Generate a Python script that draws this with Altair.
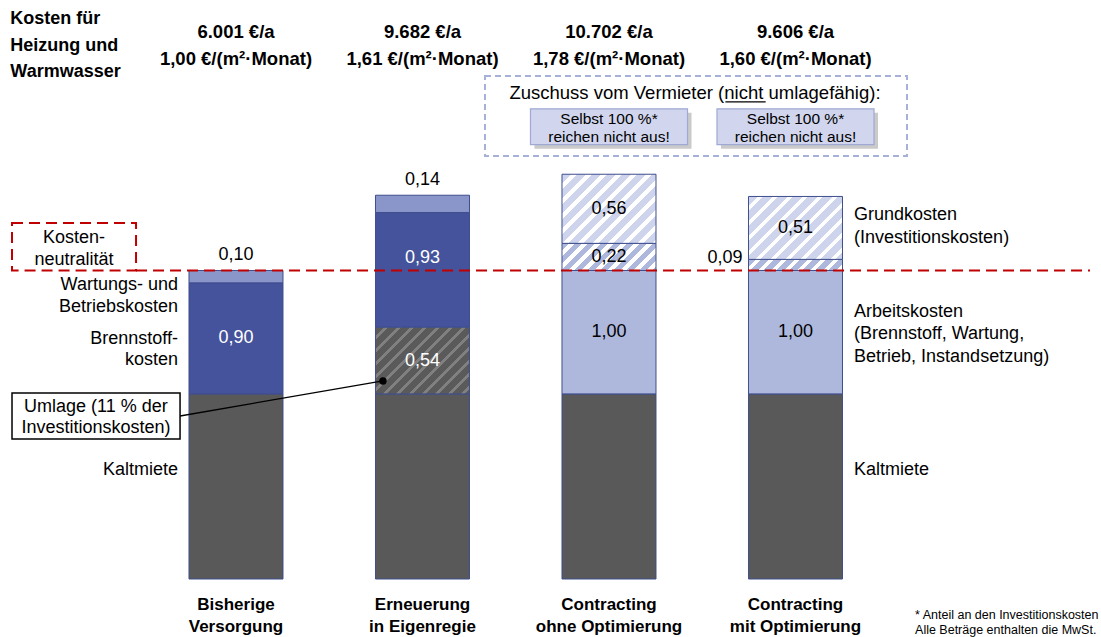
import altair as alt
import numpy as np
import pandas as pd

# ---------------- data ----------------
categories = [["Bisherige", "Versorgung"], ["Erneuerung", "in Eigenregie"],
              ["Contracting", "ohne Optimierung"], ["Contracting", "mit Optimierung"]]
cost_per_year = [6001, 9682, 10702, 9606]          # €/a
cost_per_m2 = [1.00, 1.61, 1.78, 1.60]             # €/(m²·Monat)
kaltmiete = [1.50, 1.50, 1.50, 1.50]               # unlabelled base block
seg_bar = [1, 1, 2, 2, 2, 3, 3, 3, 4, 4, 4]
seg_component = ["Brennstoff", "Wartung",
                 "Umlage", "Brennstoff", "Wartung",
                 "Arbeit", "GrundTeil", "Grund",
                 "Arbeit", "GrundTeil", "Grund"]
seg_value = [0.90, 0.10, 0.54, 0.93, 0.14, 1.00, 0.22, 0.56, 1.00, 0.09, 0.51]
neutral_level = 2.50                               # Kostenneutralität

title_lines = ["Kosten für", "Heizung und", "Warmwasser"]
left_labels = ["Wartungs- und", "Betriebskosten", "Brennstoff-", "kosten", "Kaltmiete"]
right_labels = ["Grundkosten", "(Investitionskosten)", "Arbeitskosten",
                "(Brennstoff, Wartung,", "Betrieb, Instandsetzung)", "Kaltmiete"]
umlage_lines = ["Umlage (11 % der", "Investitionskosten)"]
neutral_lines = ["Kosten-", "neutralität"]
zuschuss_text = "Zuschuss vom Vermieter (nicht umlagefähig):"
box_lines = ["Selbst 100 %*", "reichen nicht aus!"]
footnote_lines = ["* Anteil an den Investitionskosten", "Alle Beträge enthalten die MwSt."]

# ---------------- layout / style ----------------
W_PX, H_PX = 1101, 637
XMIN, XMAX = -0.2654, 5.6381
YMIN, YMAX = -0.470, 4.692
KX = W_PX / (XMAX - XMIN)
KY = H_PX / (YMAX - YMIN)
HALF = 0.252
FONT = "Liberation Sans"
EDGE = "#3F4E8E"
RED = "#C00000"
xs = alt.Scale(domain=[XMIN, XMAX], nice=False, zero=False)
ys = alt.Scale(domain=[YMIN, YMAX], nice=False, zero=False)

solid_colors = {"Kaltmiete": "#595959", "Brennstoff": "#44539B",
                "Wartung": "#8A96CA", "Arbeit": "#AEB8DD"}
hatch_styles = {"Umlage": ("#5A5A5A", "#808080", 13.0, 0.35),
                "GrundTeil": ("#AEB8DD", "#FFFFFF", 13.0, 0.45),
                "Grund": ("#CDD4EC", "#FFFFFF", 15.0, 0.35)}


def fmt(v):
    return f"{v:.2f}".replace(".", ",")


def X(f="x"):
    return alt.X(f"{f}:Q", scale=xs, axis=None)


def Y(f="y"):
    return alt.Y(f"{f}:Q", scale=ys, axis=None)


# ---------------- stacked segments ----------------
rows = []
tops = {}
for i, km in enumerate(kaltmiete, start=1):
    rows.append(dict(bar=i, comp="Kaltmiete", lo=0.0, hi=km, val=km))
    tops[i] = km
for b, c, v in zip(seg_bar, seg_component, seg_value):
    lo = tops[b]
    rows.append(dict(bar=b, comp=c, lo=lo, hi=lo + v, val=v))
    tops[b] = lo + v
rects = pd.DataFrame(rows)
rects["x"] = rects["bar"] - HALF
rects["x2"] = rects["bar"] + HALF
rects["mid"] = (rects["lo"] + rects["hi"]) / 2

layers = []

solid = rects[rects["comp"].isin(list(solid_colors))]
layers.append(
    alt.Chart(solid).mark_rect(stroke=EDGE, strokeWidth=1).encode(
        x=X("x"), x2=alt.X2("x2:Q"), y=Y("lo"), y2=alt.Y2("hi:Q"),
        fill=alt.Fill("comp:N", legend=None,
                      scale=alt.Scale(domain=list(solid_colors),
                                      range=list(solid_colors.values())))
    )
)


def hatch_gradient(w, h, bg, fg, period, frac):
    r = h / w
    total = w + h
    stops = []
    k = 0
    while k * period < total:
        a = k * period / total
        m = min((k * period + (1 - frac) * period) / total, 1.0)
        e = min((k + 1) * period / total, 1.0)
        stops += [{"offset": a, "color": bg}, {"offset": m, "color": bg}]
        if m < 1.0:
            stops += [{"offset": m, "color": fg}, {"offset": e, "color": fg}]
        k += 1
    return {"gradient": "linear", "x1": 0, "y1": 0,
            "x2": (1 + r) / (1 + r * r), "y2": r * (1 + r) / (1 + r * r),
            "stops": stops}


hatched = rects[rects["comp"].isin(list(hatch_styles))]
for _, row in hatched.iterrows():
    bg, fg, per, frac = hatch_styles[row["comp"]]
    w = 2 * HALF * KX
    h = row["val"] * KY
    grad = hatch_gradient(w, h, bg, fg, per, frac)
    layers.append(
        alt.Chart(pd.DataFrame([row])).mark_rect(fill=grad, stroke=EDGE, strokeWidth=1).encode(
            x=X("x"), x2=alt.X2("x2:Q"), y=Y("lo"), y2=alt.Y2("hi:Q"))
    )

# ---------------- red neutrality line + box ----------------
layers.append(
    alt.Chart(pd.DataFrame({"x": [0.464], "x2": [5.579], "y": [neutral_level]}))
    .mark_rule(color=RED, strokeWidth=2, strokeDash=[11, 6])
    .encode(x=X("x"), x2=alt.X2("x2:Q"), y=Y("y"))
)
layers.append(
    alt.Chart(pd.DataFrame({"x": [-0.201], "x2": [0.464], "y": [neutral_level], "y2": [2.885]}))
    .mark_rect(fillOpacity=0, stroke=RED, strokeWidth=2, strokeDash=[11, 6])
    .encode(x=X("x"), x2=alt.X2("x2:Q"), y=Y("y"), y2=alt.Y2("y2:Q"))
)


def text_layer(df, **kw):
    base = dict(font=FONT, fontSize=18, color="black", baseline="middle", align="center")
    base.update(kw)
    return alt.Chart(df).mark_text(**base).encode(x=X("x"), y=Y("y"), text="t:N")


layers.append(text_layer(pd.DataFrame({"x": [0.131] * 2, "y": [2.763, 2.585], "t": neutral_lines})))

# ---------------- segment value labels ----------------
inside = rects[(rects["comp"] != "Kaltmiete")]
lab_rows = []
for _, r in inside.iterrows():
    txt = fmt(r["val"])
    if r["comp"] == "Wartung":
        lab_rows.append(dict(x=r["bar"], y=r["hi"], t=txt, kind="above"))
    elif r["comp"] == "GrundTeil" and r["val"] < 0.15:
        lab_rows.append(dict(x=r["bar"] - HALF, y=r["hi"], t=txt, kind="left"))
    elif r["comp"] in ("Brennstoff", "Umlage"):
        kind = "white_up" if (r["lo"] < neutral_level < r["hi"]) else "white"
        lab_rows.append(dict(x=r["bar"], y=r["mid"], t=txt, kind=kind))
    else:
        lab_rows.append(dict(x=r["bar"], y=r["mid"], t=txt, kind="black"))
labs = pd.DataFrame(lab_rows)
layers.append(text_layer(labs[labs.kind == "above"], dy=-15))
layers.append(text_layer(labs[labs.kind == "left"], align="right", dx=-6, dy=-1))
layers.append(text_layer(labs[labs.kind == "white"], color="white"))
layers.append(text_layer(labs[labs.kind == "white_up"], color="white", dy=-12))
layers.append(text_layer(labs[labs.kind == "black"]))

# ---------------- headers ----------------
hdr = pd.DataFrame({
    "x": [1, 2, 3, 4] * 2,
    "y": [4.433] * 4 + [4.214] * 4,
    "t": [f"{c:,} €/a".replace(",", ".") for c in cost_per_year]
         + [f"{fmt(c)} €/(m²·Monat)" for c in cost_per_m2],
})
layers.append(text_layer(hdr, fontWeight="bold", fontSize=18.5))
layers.append(text_layer(pd.DataFrame({"x": [-0.21] * 3, "y": [4.54, 4.32, 4.11], "t": title_lines}),
                         fontWeight="bold", fontSize=18, align="left"))

# ---------------- category labels ----------------
cat = pd.DataFrame({
    "x": [i for i in range(1, 5) for _ in range(2)],
    "y": [-0.211, -0.389] * 4,
    "t": [ln for pair in categories for ln in pair],
})
layers.append(text_layer(cat, fontWeight="bold", fontSize=17))

# ---------------- side labels ----------------
layers.append(text_layer(pd.DataFrame({"x": [0.689] * 5,
                                       "y": [2.382, 2.204, 1.945, 1.775, 0.883],
                                       "t": left_labels}), align="right"))
layers.append(text_layer(pd.DataFrame({"x": [4.314] * 6,
                                       "y": [2.950, 2.763, 2.164, 1.985, 1.799, 0.883],
                                       "t": right_labels}), align="left"))

# ---------------- Umlage callout ----------------
layers.append(
    alt.Chart(pd.DataFrame({"x": [0.700], "y": [1.321], "x2": [1.788], "y2": [1.605]}))
    .mark_rule(color="black", strokeWidth=1.3)
    .encode(x=X("x"), y=Y("y"), x2=alt.X2("x2:Q"), y2=alt.Y2("y2:Q"))
)
layers.append(
    alt.Chart(pd.DataFrame({"x": [1.788], "y": [1.605]}))
    .mark_point(filled=True, color="black", size=55, opacity=1)
    .encode(x=X("x"), y=Y("y"))
)
layers.append(
    alt.Chart(pd.DataFrame({"x": [-0.201], "x2": [0.700], "y": [1.135], "y2": [1.507]}))
    .mark_rect(fill="white", stroke="black", strokeWidth=1.5)
    .encode(x=X("x"), x2=alt.X2("x2:Q"), y=Y("y"), y2=alt.Y2("y2:Q"))
)
layers.append(text_layer(pd.DataFrame({"x": [0.249] * 2, "y": [1.394, 1.224], "t": umlage_lines})))

# ---------------- Zuschuss box ----------------
layers.append(
    alt.Chart(pd.DataFrame({"x": [2.335], "x2": [4.598], "y": [3.428], "y2": [4.076]}))
    .mark_rect(fillOpacity=0, stroke="#A7B0D8", strokeWidth=2, strokeDash=[6, 4])
    .encode(x=X("x"), x2=alt.X2("x2:Q"), y=Y("y"), y2=alt.Y2("y2:Q"))
)
layers.append(text_layer(pd.DataFrame({"x": [3.461], "y": [3.938], "t": [zuschuss_text]}), fontSize=18.5))
layers.append(
    alt.Chart(pd.DataFrame({"x": [3.624], "x2": [3.840], "y": [3.866]}))
    .mark_rule(color="black", strokeWidth=1.3)
    .encode(x=X("x"), x2=alt.X2("x2:Q"), y=Y("y"))
)
bw = 0.421
sb = pd.DataFrame({"x": [3 - bw, 4 - bw], "x2": [3 + bw, 4 + bw], "y": [3.52, 3.52], "y2": [3.81, 3.81]})
sh = sb.copy()
sh["x"] += 4 / KX
sh["x2"] += 4 / KX
sh["y"] -= 4 / KY
sh["y2"] -= 4 / KY
layers.append(
    alt.Chart(sh).mark_rect(fill="#8A8A8A", opacity=0.45)
    .encode(x=X("x"), x2=alt.X2("x2:Q"), y=Y("y"), y2=alt.Y2("y2:Q"))
)
layers.append(
    alt.Chart(sb).mark_rect(fill="#D1D6EE", stroke="#9FA9D3", strokeWidth=1.2)
    .encode(x=X("x"), x2=alt.X2("x2:Q"), y=Y("y"), y2=alt.Y2("y2:Q"))
)
bt = pd.DataFrame({"x": [3, 3, 4, 4], "y": [3.728, 3.582] * 2, "t": box_lines * 2})
layers.append(text_layer(bt, fontSize=15.5))

# ---------------- footnote ----------------
layers.append(text_layer(pd.DataFrame({"x": [4.641] * 2, "y": [-0.292, -0.413], "t": footnote_lines}),
                         align="left", fontSize=12.5))

chart = alt.layer(*layers).properties(
    width=W_PX, height=H_PX,
    autosize=alt.AutoSizeParams(type="none"),
    padding=0, background="white",
).configure_view(stroke=None)

chart.save("out.html", embed_options={"renderer": "svg", "actions": False})
